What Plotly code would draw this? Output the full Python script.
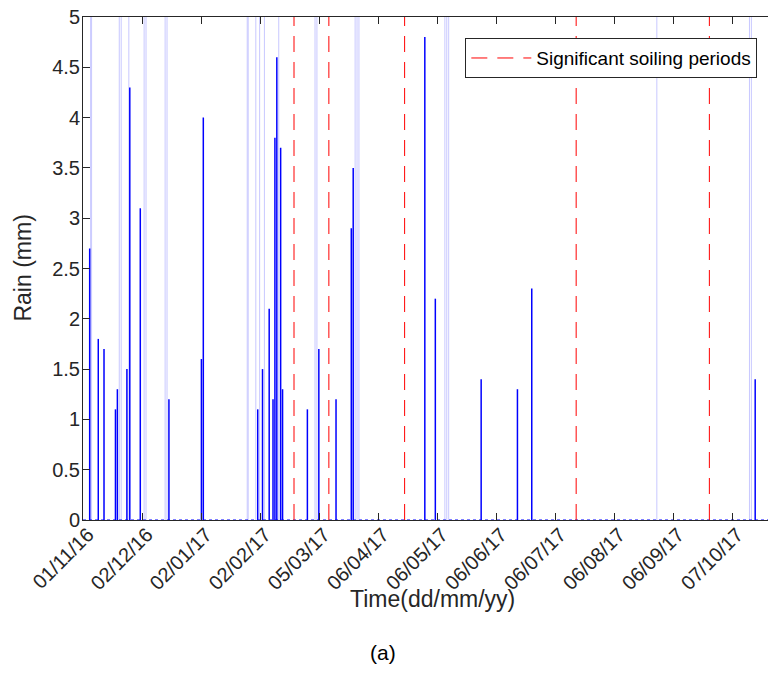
import numpy as np
import pandas as pd
import plotly.graph_objects as go

# ---------------- data ----------------
rain_dates = [
    "2016-11-04 12:00", "2016-11-09", "2016-11-12", "2016-11-18", "2016-11-19",
    "2016-11-24", "2016-11-25 12:00", "2016-12-01", "2016-12-16", "2017-01-02",
    "2017-01-03", "2017-01-31 12:00", "2017-02-03", "2017-02-06 12:00",
    "2017-02-08 12:00", "2017-02-09 12:00", "2017-02-10 12:00", "2017-02-12 12:00",
    "2017-02-13 12:00", "2017-02-26 12:00", "2017-03-04 12:00", "2017-03-13 12:00",
    "2017-03-21 12:00", "2017-03-22 12:00", "2017-04-29", "2017-05-04 12:00",
    "2017-05-28 12:00", "2017-06-16 12:00", "2017-06-24", "2017-10-19",
]
rain_mm = [
    2.7, 1.8, 1.7, 1.1, 1.3,
    1.5, 4.3, 3.1, 1.2, 1.6,
    4.0, 1.1, 1.5, 2.1,
    1.2, 3.8, 4.6, 3.7,
    1.3, 1.1, 1.7, 1.2,
    2.9, 3.5, 4.8, 2.2,
    1.4, 1.3, 2.3, 1.4,
]

# days whose rain exceeds the plotted range (drawn as faint full-height stems)
heavy_rain_dates = [
    "2016-11-05", "2016-11-05 12:00", "2016-11-20", "2016-11-21", "2016-11-25",
    "2016-12-03", "2016-12-04", "2016-12-14", "2016-12-15", "2017-01-26",
    "2017-01-26 12:00", "2017-01-30 12:00", "2017-02-01 12:00", "2017-02-04",
    "2017-02-11 12:00", "2017-03-02 12:00", "2017-03-03 12:00", "2017-03-23 12:00",
    "2017-03-24 12:00", "2017-03-25 12:00", "2017-05-09 12:00", "2017-05-10 12:00",
    "2017-05-11 12:00", "2017-08-28 12:00", "2017-10-16", "2017-10-17",
]

soiling_dates = [
    "2017-02-19 12:00", "2017-03-09 18:00", "2017-04-18 10:00",
    "2017-07-17 06:00", "2017-09-25",
]

tick_labels = [
    "01/11/16", "02/12/16", "02/01/17", "02/02/17", "05/03/17", "06/04/17",
    "06/05/17", "06/06/17", "06/07/17", "06/08/17", "06/09/17", "07/10/17",
]

x_start = "2016-11-01"
x_end = "2017-10-25 17:00"
y_max = 5

# ---------------- helpers ----------------
def stems(dates, tops):
    xs, ys = [], []
    for d, t in zip(dates, tops):
        xs += [d, d, None]
        ys += [0, t, None]
    return xs, ys

tick_dt = pd.to_datetime(tick_labels, format="%d/%m/%y")
tick_vals = pd.date_range(tick_dt[0], tick_dt[-1], periods=len(tick_labels))

FONT = "Liberation Sans, Arial, Helvetica, sans-serif"
AX = "#262626"

fig = go.Figure()

hx, hy = stems(heavy_rain_dates, [y_max] * len(heavy_rain_dates))
fig.add_trace(go.Scatter(x=hx, y=hy, mode="lines",
                         line=dict(color="#c8c8ff", width=1),
                         showlegend=False, hoverinfo="skip"))

fig.add_trace(go.Scatter(x=[x_start, x_end], y=[0, 0], mode="lines",
                         line=dict(color="#0000ff", width=1, dash="dot"),
                         showlegend=False, hoverinfo="skip"))

rx, ry = stems(rain_dates, rain_mm)
fig.add_trace(go.Scatter(x=rx, y=ry, mode="lines",
                         line=dict(color="#0000ff", width=1.5),
                         showlegend=False))

sx, sy = stems(soiling_dates, [y_max] * len(soiling_dates))
fig.add_trace(go.Scatter(x=sx, y=sy, mode="lines",
                         line=dict(color="#ff0000", width=1, dash="16px,10px"),
                         name="Significant soiling periods", showlegend=True))

fig.update_layout(
    width=768, height=680,
    margin=dict(l=83, r=0, t=17, b=160),
    paper_bgcolor="white", plot_bgcolor="white",
    font=dict(family=FONT, size=19, color=AX),
    showlegend=True,
    legend=dict(x=0.9844, xanchor="right", y=0.958, yanchor="top",
                bordercolor=AX, borderwidth=1, bgcolor="white",
                font=dict(size=19, color="black"), itemwidth=60),
    xaxis=dict(type="date", range=[x_start, x_end],
               tickvals=list(tick_vals), ticktext=tick_labels, tickangle=-45,
               ticks="inside", ticklen=7, tickcolor=AX, tickwidth=1,
               ticklabelstandoff=-6, ticklabelshift=5,
               showline=True, linecolor=AX, linewidth=1, mirror="ticks",
               showgrid=False, zeroline=False,
               tickfont=dict(size=20, color=AX, family=FONT)),
    yaxis=dict(range=[0, y_max], tickmode="array",
               tickvals=[i * 0.5 for i in range(11)],
               ticktext=["0", "0.5", "1", "1.5", "2", "2.5", "3", "3.5", "4", "4.5", "5"],
               ticks="inside", ticklen=7, tickcolor=AX, tickwidth=1,
               ticklabelstandoff=-2,
               showline=True, linecolor=AX, linewidth=1, mirror=False,
               showgrid=False, zeroline=False,
               tickfont=dict(size=20, color=AX, family=FONT)),
    annotations=[
        dict(text="Rain (mm)", xref="paper", yref="paper", x=-0.089, y=0.5,
             textangle=-90, showarrow=False, font=dict(size=23, color=AX),
             xanchor="center", yanchor="middle"),
        dict(text="Time(dd/mm/yy)", xref="paper", yref="paper", x=0.5095, y=-0.157,
             showarrow=False, font=dict(size=23, color=AX),
             xanchor="center", yanchor="middle"),
        dict(text="(a)", xref="paper", yref="paper", x=0.438, y=-0.264,
             showarrow=False, font=dict(size=21, color="black"),
             xanchor="center", yanchor="middle"),
    ],
)

fig.write_html("out.html")
